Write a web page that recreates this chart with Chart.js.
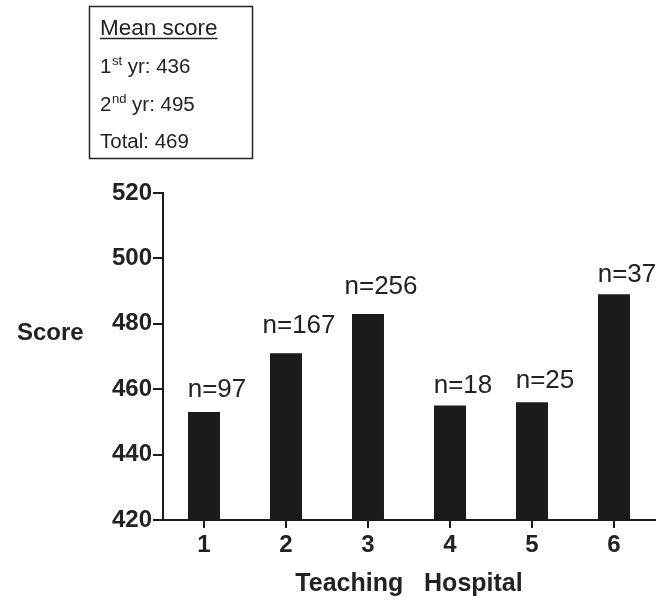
<!DOCTYPE html>
<html>
<head>
<meta charset="utf-8">
<script src="https://cdn.jsdelivr.net/npm/chart.js@4/dist/chart.umd.min.js"></script>
<style>
  html, body { margin: 0; padding: 0; background: #ffffff; }
  #wrap { position: relative; width: 669px; height: 599px; }
</style>
</head>
<body>
<div id="wrap"><canvas id="c" width="669" height="599"></canvas></div>
<script>
const categories = ['1', '2', '3', '4', '5', '6'];
const scores = [453, 471, 483, 455, 456, 489];
const sampleSizes = ['n=97', 'n=167', 'n=256', 'n=18', 'n=25', 'n=37'];
const yTicks = [420, 440, 460, 480, 500, 520];
const xTitle = 'Teaching   Hospital';
const yTitle = 'Score';
const legendTitle = 'Mean score';
const legendRows = [
  { pre: '1', sup: 'st', post: ' yr: 436' },
  { pre: '2', sup: 'nd', post: ' yr: 495' },
  { pre: 'Total: 469', sup: '', post: '' }
];

const INK = '#1b1b1b';
const FONT = '"Liberation Sans", Arial, Helvetica, sans-serif';
// label styling: gap above bar top (px) and horizontal nudge
const LABEL_GAPS = [15, 20, 20, 13, 14, 12];
const LABEL_NUDGE = 13;

const annotate = {
  id: 'annotate',
  afterDatasetsDraw(chart) {
    const ctx = chart.ctx;
    const meta = chart.getDatasetMeta(0);
    ctx.save();
    ctx.fillStyle = '#222';
    ctx.font = '26px ' + FONT;
    ctx.textAlign = 'center';
    ctx.textBaseline = 'alphabetic';
    meta.data.forEach((bar, i) => {
      ctx.fillText(sampleSizes[i], bar.x + LABEL_NUDGE, bar.y - LABEL_GAPS[i]);
    });
    // y title, horizontal
    ctx.font = 'bold 24px ' + FONT;
    ctx.textAlign = 'left';
    ctx.fillText(yTitle, 17, 340);
    // legend box
    ctx.strokeStyle = '#222';
    ctx.lineWidth = 1.5;
    ctx.strokeRect(89.5, 6.5, 163, 152);
    ctx.font = '22.5px ' + FONT;
    ctx.fillText(legendTitle, 100, 35);
    const w = ctx.measureText(legendTitle).width;
    ctx.lineWidth = 1.3;
    ctx.beginPath();
    ctx.moveTo(100, 38.5);
    ctx.lineTo(100 + w, 38.5);
    ctx.stroke();
    const baselines = [73, 111, 148];
    legendRows.forEach((r, i) => {
      let x = 100;
      const y = baselines[i];
      ctx.font = '20.5px ' + FONT;
      ctx.fillText(r.pre, x, y);
      x += ctx.measureText(r.pre).width;
      if (r.sup) {
        ctx.font = '13px ' + FONT;
        ctx.fillText(r.sup, x + 0.5, y - 8);
        x += ctx.measureText(r.sup).width + 0.5;
      }
      if (r.post) {
        ctx.font = '20.5px ' + FONT;
        ctx.fillText(r.post, x, y);
      }
    });
    ctx.restore();
  }
};

new Chart(document.getElementById('c'), {
  type: 'bar',
  data: {
    labels: categories,
    datasets: [{
      data: scores,
      backgroundColor: INK,
      borderWidth: 0,
      categoryPercentage: 1.0,
      barPercentage: 0.39
    }]
  },
  options: {
    responsive: false,
    animation: false,
    events: [],
    layout: { padding: { left: 0, top: 193, right: 14, bottom: 0 } },
    plugins: { legend: { display: false }, tooltip: { enabled: false } },
    scales: {
      x: {
        offset: true,
        grid: { offset: false, drawOnChartArea: false, drawTicks: true, tickLength: 8, color: INK, lineWidth: 2 },
        border: { display: true, color: INK, width: 2 },
        ticks: { color: '#222', font: { family: FONT, size: 24, weight: 'bold' }, padding: 3 },
        title: { display: true, text: xTitle, color: '#222', font: { family: FONT, size: 25, weight: 'bold' }, padding: { top: 4, bottom: 0 } },
        afterFit(scale) { scale.height = 79; }
      },
      y: {
        min: 420,
        max: 520,
        afterBuildTicks(scale) { scale.ticks = yTicks.map(v => ({ value: v })); },
        grid: { drawOnChartArea: false, drawTicks: true, tickLength: 10, color: INK, lineWidth: 2 },
        border: { display: true, color: INK, width: 2 },
        ticks: { color: '#222', font: { family: FONT, size: 24, weight: 'bold' }, padding: 1 },
        afterFit(scale) { scale.width = 163; }
      }
    }
  },
  plugins: [annotate]
});
</script>
</body>
</html>
